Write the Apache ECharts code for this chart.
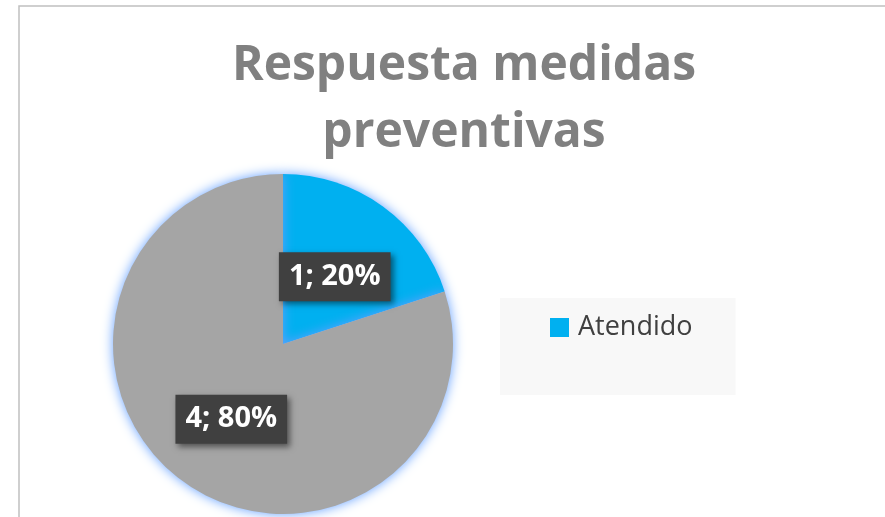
<!DOCTYPE html>
<html><head><meta charset="utf-8">
<script src="https://cdn.jsdelivr.net/npm/echarts@6/dist/echarts.min.js"></script>
<style>html,body{margin:0;padding:0;background:#fff}#c{width:885px;height:517px}</style>
</head><body><div id="c"></div>
<script>
const categories = ['Atendido', 'No atendido'];
const values = [1, 4];
const colors = ['#00b0f0', '#a5a5a5'];
const titleText = 'Respuesta medidas\npreventivas';

const chart = echarts.init(document.getElementById('c'), null, {renderer: 'canvas'});
chart.setOption({
  animation: false,
  backgroundColor: '#ffffff',
  title: {
    text: titleText, left: 459, top: 28, textAlign: 'center',
    textStyle: {fontFamily: 'Open Sans', fontWeight: 'bold', fontSize: 48, color: '#808080', lineHeight: 67}
  },
  graphic: [{
    type: 'rect', shape: {x: 19, y: 6, width: 900, height: 600},
    style: {fill: 'none', stroke: '#c0c0c0', lineWidth: 1.5}, silent: true, z: -10
  }],
  legend: {
    data: ['Atendido'], left: 500, top: 298, orient: 'vertical',
    backgroundColor: '#f8f8f8', padding: [16, 43, 54, 50],
    itemWidth: 19, itemHeight: 19, itemGap: 8,
    textStyle: {fontFamily: 'Open Sans', fontSize: 27, color: '#404040', lineHeight: 26, padding: [0, 0, 0, 4]},
    icon: 'rect'
  },
  series: [{
    type: 'pie', center: [283, 344], radius: 170, startAngle: 90, clockwise: true,
    data: categories.map((n, i) => ({name: n, value: values[i], itemStyle: {color: colors[i]}})),
    itemStyle: {shadowBlur: 12, shadowColor: 'rgba(100,160,255,1)'},
    label: {
      show: true, position: 'inside', formatter: '{c}; {d}%', offset: [0, 4],
      fontFamily: 'Open Sans', fontWeight: 'bold', fontSize: 29, color: '#ffffff',
      backgroundColor: '#404040', padding: [11, 10, 9, 10],
      shadowBlur: 6, shadowColor: 'rgba(0,0,0,0.5)', shadowOffsetX: 3, shadowOffsetY: 3
    },
    labelLine: {show: false},
    emphasis: {disabled: true}
  }]
});
</script></body></html>
